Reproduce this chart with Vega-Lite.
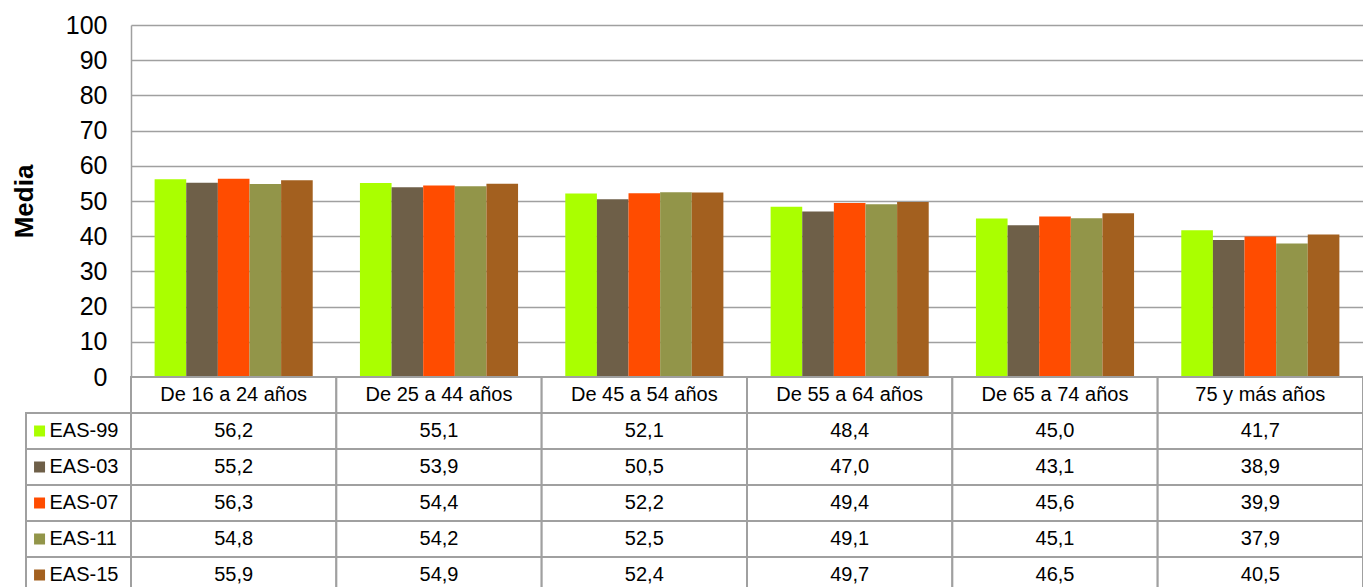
{
  "$schema": "https://vega.github.io/schema/vega-lite/v6.json",
  "padding": {"left": 11, "top": 13, "right": 0, "bottom": 0},
  "background": "white",
  "columns": 2,
  "spacing": 0,
  "bounds": "flush",
  "datasets": {
    "eas": [
      {"grupo": "De 16 a 24 años", "serie": "EAS-99", "media": 56.2},
      {"grupo": "De 25 a 44 años", "serie": "EAS-99", "media": 55.1},
      {"grupo": "De 45 a 54 años", "serie": "EAS-99", "media": 52.1},
      {"grupo": "De 55 a 64 años", "serie": "EAS-99", "media": 48.4},
      {"grupo": "De 65 a 74 años", "serie": "EAS-99", "media": 45.0},
      {"grupo": "75 y más años", "serie": "EAS-99", "media": 41.7},
      {"grupo": "De 16 a 24 años", "serie": "EAS-03", "media": 55.2},
      {"grupo": "De 25 a 44 años", "serie": "EAS-03", "media": 53.9},
      {"grupo": "De 45 a 54 años", "serie": "EAS-03", "media": 50.5},
      {"grupo": "De 55 a 64 años", "serie": "EAS-03", "media": 47.0},
      {"grupo": "De 65 a 74 años", "serie": "EAS-03", "media": 43.1},
      {"grupo": "75 y más años", "serie": "EAS-03", "media": 38.9},
      {"grupo": "De 16 a 24 años", "serie": "EAS-07", "media": 56.3},
      {"grupo": "De 25 a 44 años", "serie": "EAS-07", "media": 54.4},
      {"grupo": "De 45 a 54 años", "serie": "EAS-07", "media": 52.2},
      {"grupo": "De 55 a 64 años", "serie": "EAS-07", "media": 49.4},
      {"grupo": "De 65 a 74 años", "serie": "EAS-07", "media": 45.6},
      {"grupo": "75 y más años", "serie": "EAS-07", "media": 39.9},
      {"grupo": "De 16 a 24 años", "serie": "EAS-11", "media": 54.8},
      {"grupo": "De 25 a 44 años", "serie": "EAS-11", "media": 54.2},
      {"grupo": "De 45 a 54 años", "serie": "EAS-11", "media": 52.5},
      {"grupo": "De 55 a 64 años", "serie": "EAS-11", "media": 49.1},
      {"grupo": "De 65 a 74 años", "serie": "EAS-11", "media": 45.1},
      {"grupo": "75 y más años", "serie": "EAS-11", "media": 37.9},
      {"grupo": "De 16 a 24 años", "serie": "EAS-15", "media": 55.9},
      {"grupo": "De 25 a 44 años", "serie": "EAS-15", "media": 54.9},
      {"grupo": "De 45 a 54 años", "serie": "EAS-15", "media": 52.4},
      {"grupo": "De 55 a 64 años", "serie": "EAS-15", "media": 49.7},
      {"grupo": "De 65 a 74 años", "serie": "EAS-15", "media": 46.5},
      {"grupo": "75 y más años", "serie": "EAS-15", "media": 40.5}
    ]
  },
  "concat": [
    {
      "width": 105,
      "height": 352,
      "data": {"values": [{}]},
      "mark": {"type": "text"},
      "encoding": {"text": {"value": ""}}
    },
    {
      "width": 1232,
      "height": 352,
      "data": {"name": "eas"},
      "mark": {"type": "bar"},
      "encoding": {
        "x": {
          "field": "grupo",
          "type": "nominal",
          "sort": ["De 16 a 24 años", "De 25 a 44 años", "De 45 a 54 años", "De 55 a 64 años", "De 65 a 74 años", "75 y más años"],
          "scale": {"paddingInner": 0.23, "paddingOuter": 0.115},
          "axis": null
        },
        "xOffset": {
          "field": "serie",
          "type": "nominal",
          "sort": ["EAS-99", "EAS-03", "EAS-07", "EAS-11", "EAS-15"],
          "scale": {"paddingInner": 0, "paddingOuter": 0}
        },
        "y": {
          "field": "media",
          "type": "quantitative",
          "scale": {"domain": [0, 100], "nice": false},
          "axis": {
            "title": "Media",
            "values": [0, 10, 20, 30, 40, 50, 60, 70, 80, 90, 100],
            "ticks": false,
            "tickSize": 0,
            "labelPadding": 24,
            "labelFontSize": 25,
            "labelFont": "Liberation Sans",
            "labelColor": "#000000",
            "grid": true,
            "gridColor": "#a0a0a0",
            "gridWidth": 1.5,
            "domain": true,
            "domainColor": "#a0a0a0",
            "domainWidth": 1.5,
            "titleFont": "Liberation Sans",
            "titleFontSize": 26,
            "titleFontWeight": "bold",
            "titleColor": "#000000",
            "titleAngle": -90,
            "titleX": -107,
            "titleY": 176,
            "titleAlign": "center",
            "titleBaseline": "middle"
          }
        },
        "color": {
          "field": "serie",
          "type": "nominal",
          "scale": {
            "domain": ["EAS-99", "EAS-03", "EAS-07", "EAS-11", "EAS-15"],
            "range": ["#aaff00", "#6e5f48", "#ff4c00", "#929549", "#a3601f"]
          },
          "legend": null
        }
      }
    },
    {
      "width": 105,
      "height": 216,
      "data": {"name": "eas"},
      "transform": [{"filter": "datum.grupo === 'De 16 a 24 años'"}],
      "encoding": {
        "y": {
          "field": "serie",
          "type": "nominal",
          "scale": {"type": "band", "domain": ["cab", "EAS-99", "EAS-03", "EAS-07", "EAS-11", "EAS-15"], "paddingInner": 0, "paddingOuter": 0},
          "axis": null
        }
      },
      "layer": [
        {
          "mark": {"type": "rect", "fill": "#ffffff", "stroke": "#a0a0a0", "strokeWidth": 2},
          "encoding": {
            "x": {"datum": 0, "type": "quantitative", "scale": {"domain": [0, 1]}, "axis": null},
            "x2": {"datum": 1}
          }
        },
        {
          "mark": {"type": "square", "size": 121, "filled": true, "opacity": 1},
          "encoding": {
            "x": {"datum": 0.129, "type": "quantitative"},
            "color": {
              "field": "serie",
              "type": "nominal",
              "scale": {
                "domain": ["EAS-99", "EAS-03", "EAS-07", "EAS-11", "EAS-15"],
                "range": ["#aaff00", "#6e5f48", "#ff4c00", "#929549", "#a3601f"]
              },
              "legend": null
            }
          }
        },
        {
          "mark": {"type": "text", "align": "left", "baseline": "middle", "fontSize": 20, "font": "Liberation Sans", "color": "#000000"},
          "encoding": {
            "x": {"datum": 0.224, "type": "quantitative"},
            "text": {"field": "serie"}
          }
        }
      ]
    },
    {
      "width": 1232,
      "height": 216,
      "data": {"name": "eas"},
      "encoding": {
        "x": {
          "field": "grupo",
          "type": "nominal",
          "sort": ["De 16 a 24 años", "De 25 a 44 años", "De 45 a 54 años", "De 55 a 64 años", "De 65 a 74 años", "75 y más años"],
          "scale": {"type": "band", "paddingInner": 0, "paddingOuter": 0},
          "axis": null
        }
      },
      "layer": [
        {
          "mark": {"type": "rect", "fill": "#ffffff", "stroke": "#a0a0a0", "strokeWidth": 2},
          "encoding": {
            "y": {
              "field": "serie",
              "type": "nominal",
              "scale": {"type": "band", "domain": ["cab", "EAS-99", "EAS-03", "EAS-07", "EAS-11", "EAS-15"], "paddingInner": 0, "paddingOuter": 0},
              "axis": null
            }
          }
        },
        {
          "mark": {"type": "text", "baseline": "middle", "align": "center", "fontSize": 20, "font": "Liberation Sans", "color": "#000000"},
          "encoding": {
            "y": {"field": "serie", "type": "nominal"},
            "text": {"field": "media", "type": "quantitative", "format": ".1f"}
          }
        },
        {
          "transform": [{"filter": "datum.serie === 'EAS-99'"}],
          "mark": {"type": "rect", "fill": "#ffffff", "stroke": "#a0a0a0", "strokeWidth": 2},
          "encoding": {
            "y": {"datum": "cab", "type": "nominal"}
          }
        },
        {
          "transform": [{"filter": "datum.serie === 'EAS-99'"}],
          "mark": {"type": "text", "baseline": "middle", "align": "center", "fontSize": 20, "font": "Liberation Sans", "color": "#000000"},
          "encoding": {
            "y": {"datum": "cab", "type": "nominal"},
            "text": {"field": "grupo"}
          }
        }
      ]
    }
  ],
  "config": {
    "view": {"stroke": null},
    "locale": {
      "number": {"decimal": ",", "thousands": ".", "grouping": [3], "currency": ["", " €"]}
    }
  }
}
